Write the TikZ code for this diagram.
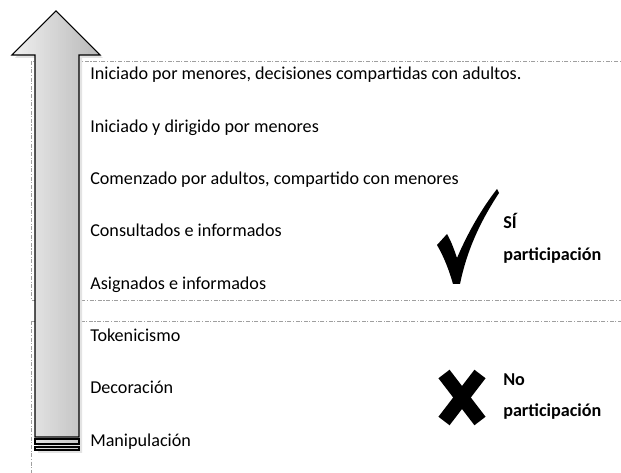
\documentclass[tikz,border=0pt]{standalone}
\usepackage{fontspec}
\setmainfont{Carlito}
\usetikzlibrary{calc}
\begin{document}
\begin{tikzpicture}[x=0.75pt,y=-0.75pt,
  zone/.style={draw=gray!75,line width=0.55pt,dash pattern=on 3pt off 1.2pt on 0.8pt off 1.2pt},
  level/.style={anchor=base west,inner sep=0pt,font=\fontsize{13.6}{16}\selectfont},
  verdict/.style={anchor=base west,inner sep=0pt,font=\fontsize{13.6}{16}\selectfont\bfseries},
  outline/.style={draw=black,line width=0.8pt}]
\useasboundingbox (0,0) rectangle (621,473);
\begin{scope}
\clip (0,0) rectangle (621,473);
% zones
\draw[zone] (31,61) rectangle (660,300);
\draw[zone] (31,321) rectangle (660,500);
% shadow of arrow
\fill[gray!22] (58,14) -- (103,58) -- (82,58) -- (82,453) -- (38,453) -- (38,58) -- (15,58) -- cycle;
% arrow fill (horizontal gradient built from strips)
\begin{scope}
\clip (56,11) -- (100,55) -- (79,55) -- (79,437) -- (35,437) -- (35,55) -- (12,55) -- cycle
  (35,439) rectangle (79,444) (35,447) rectangle (79,450);
\foreach \i in {0,...,44}{
  \pgfmathsetmacro{\xx}{12+2*\i}
  \pgfmathsetmacro{\pc}{6+0.25*(\xx-12)}
  \fill[black!\pc!white] (\xx,0) rectangle ({\xx+2.3},460);
}
\end{scope}
\draw[outline] (56,11) -- (100,55) -- (79,55) -- (79,437) -- (35,437) -- (35,55) -- (12,55) -- cycle;
\draw[outline] (35,439) rectangle (79,444);
\draw[outline] (35,447) rectangle (79,450);
\end{scope}
% levels
\node[level] (l8) at (90,80) {Iniciado por menores, decisiones compartidas con adultos.};
\node[level] (l7) at (90,133) {Iniciado y dirigido por menores};
\node[level] (l6) at (90,185) {Comenzado por adultos, compartido con menores};
\node[level] (l5) at (90,237) {Consultados e informados};
\node[level] (l4) at (90,290) {Asignados e informados};
\node[level] (l3) at (90,342) {Tokenicismo};
\node[level] (l2) at (90,394) {Decoración};
\node[level] (l1) at (90,447) {Manipulación};
% check mark
\fill (437,245) -- (447,234) .. controls (451,241) and (454,249) .. (457,258)
  .. controls (469,230) and (483,207) .. (497,189) -- (499,193)
  .. controls (480,222) and (467,250) .. (460,284) -- (453,284)
  .. controls (449,270) and (444,257) .. cycle;
\node[verdict] (si) at (503,229) {SÍ};
\node[verdict] (p1) at (503,261) {participación};
% cross mark
\draw[line width=10.5pt] (444,374) -- (480,421);
\draw[line width=10.5pt] (480,374) -- (444,421);
\node[verdict] (no) at (503,386) {No};
\node[verdict] (p2) at (503,417) {participación};
\end{tikzpicture}
\end{document}
